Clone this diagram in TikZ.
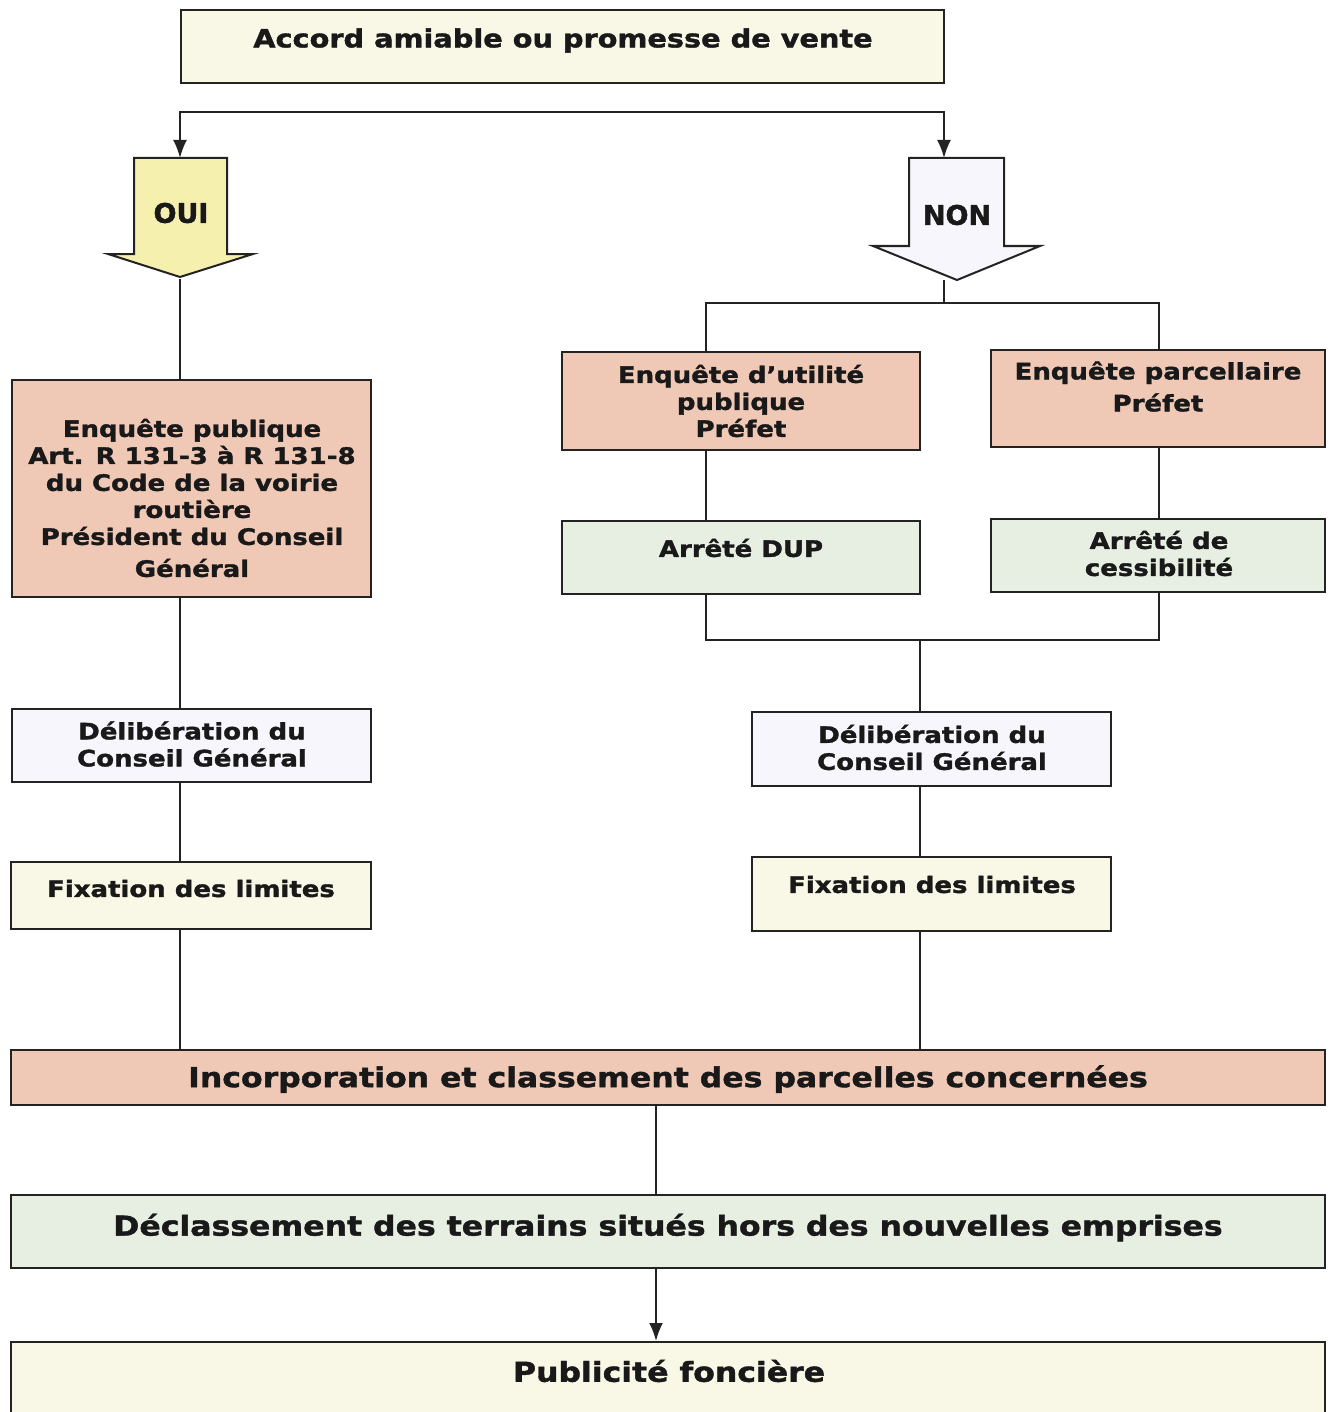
\documentclass[tikz,border=0pt]{standalone}
\usepackage{fontspec}
\setmainfont{DejaVu Sans}[FakeStretch=1.15, BoldFeatures={FakeBold=1.5}]
\newfontfamily\plainfont{DejaVu Sans}[BoldFeatures={FakeBold=1.5}]
\usetikzlibrary{arrows.meta,calc}
\definecolor{pinkc}{RGB}{240,200,182}
\definecolor{greenc}{RGB}{231,238,226}
\definecolor{creamc}{RGB}{249,247,229}
\definecolor{lavc}{RGB}{246,246,252}
\definecolor{yelc}{RGB}{245,240,174}
\definecolor{edgec}{RGB}{35,35,35}
\tikzset{
  basebox/.style={draw=edgec, line width=1pt, inner sep=0pt},
  pinkbox/.style={basebox, fill=pinkc},
  greenbox/.style={basebox, fill=greenc},
  creambox/.style={basebox, fill=creamc},
  lavbox/.style={basebox, fill=lavc},
  txt/.style={inner sep=0pt, align=center, text=black!90, font=\bfseries\fontsize{11.3}{13.5}\selectfont},
  toptxt/.style={inner sep=0pt, text=black!90, font=\bfseries\fontsize{12.5}{14}\selectfont},
  bigtxt/.style={inner sep=0pt, text=black!90, font=\bfseries\fontsize{13.7}{15}\selectfont},
  arrtxt/.style={text=black!90, font=\plainfont\bfseries\fontsize{13.5}{14}\selectfont},
  conn/.style={draw=edgec, line width=1pt},
  tipc/.style={-{Latex[length=9pt,width=7pt]}},
}
\begin{document}
\begin{tikzpicture}[x=0.5pt,y=-0.5pt]
\useasboundingbox (0,0) rectangle (1334,1412);
% column coordinates
\coordinate (cL) at (180,0);
\coordinate (cM) at (656,0);
\coordinate (r1) at (706,0);
\coordinate (r2) at (1159,0);
\coordinate (rm) at (920,0);

% top
\node[creambox, minimum width=381.5pt, minimum height=36.5pt] (top) at (562.5,46.5) {};
\node[toptxt] (topt) at (563,40.5) {Accord amiable ou promesse de vente};

% block arrows
\draw[draw=edgec, line width=1pt, fill=yelc] (134,158) -- (227,158) -- (227,254) -- (253,254) -- (180,277) -- (108,254) -- (134,254) -- cycle;
\coordinate (ouiTop) at (180,158);
\coordinate (ouiTip) at (180,279);
\node[arrtxt] (oui) at (181,213) {OUI};
\draw[draw=edgec, line width=1pt, fill=lavc] (909,158) -- (1004,158) -- (1004,246) -- (1040,246) -- (957,280) -- (873,246) -- (909,246) -- cycle;
\coordinate (nonTop) at (944,158);
\coordinate (nonTip) at (944,280);
\node[arrtxt] (non) at (957,215) {NON};
\coordinate (br) at (562,112);
\draw[conn, {Latex[length=9pt,width=7pt]}-{Latex[length=9pt,width=7pt]}] (ouiTop) |- (br) -| (nonTop);

% left column
\node[pinkbox, minimum width=179.5pt, minimum height=108.5pt] (ep) at (191.5,488.5) {};
\node[txt] (ept) at (192,498)
  {Enquête publique\\Art. R 131-3 à R 131-8\\du Code de la voirie\\routière\\Président du Conseil\\[2.5pt]Général};
\node[lavbox, minimum width=179.5pt, minimum height=36.5pt] (delL) at (191.5,745.5) {};
\node[txt] (delLt) at (192,744) {Délibération du\\Conseil Général};
\node[creambox, minimum width=180pt, minimum height=33.5pt] (fixL) at (191,895.5) {};
\node[txt] (fixLt) at (191,888.5) {Fixation des limites};

% right column
\node[pinkbox, minimum width=179pt, minimum height=49pt] (eup) at (741,401) {};
\node[txt] (eupt) at (741,401) {Enquête d’utilité\\publique\\Préfet};
\node[pinkbox, minimum width=167pt, minimum height=48.5pt] (epar) at (1158,398.5) {};
\node[txt] (epart) at (1158,386.5) {Enquête parcellaire\\[2.5pt]Préfet};
\node[greenbox, minimum width=179pt, minimum height=36.5pt] (adup) at (741,557.5) {};
\node[txt] (adupt) at (741,548) {Arrêté DUP};
\node[greenbox, minimum width=167pt, minimum height=36.5pt] (aces) at (1158,555.5) {};
\node[txt] (acest) at (1159,553.5) {Arrêté de\\cessibilité};
\node[lavbox, minimum width=179.5pt, minimum height=37pt] (delR) at (931.5,749) {};
\node[txt] (delRt) at (932,747.5) {Délibération du\\Conseil Général};
\node[creambox, minimum width=179.5pt, minimum height=37pt] (fixR) at (931.5,894) {};
\node[txt] (fixRt) at (932,884.5) {Fixation des limites};

% bottom
\node[pinkbox, minimum width=657pt, minimum height=27.5pt] (inc) at (668,1077.5) {};
\node[bigtxt] (inct) at (668,1079) {Incorporation et classement des parcelles concernées};
\node[greenbox, minimum width=657pt, minimum height=36.5pt] (decl) at (668,1231.5) {};
\node[bigtxt] (declt) at (668,1227.5) {Déclassement des terrains situés hors des nouvelles emprises};
\node[creambox, minimum width=657pt, minimum height=45pt] (pubbox) at (668,1387) {};
\node[bigtxt] (pub) at (669,1371) {Publicité foncière};

% connectors left
\draw[conn] (ouiTip) -- (ouiTip |- ep.north);
\draw[conn] (ep.south -| cL) -- (delL.north -| cL);
\draw[conn] (delL.south -| cL) -- (fixL.north -| cL);
\draw[conn] (fixL.south -| cL) -- (inc.north -| cL);

% connectors right
\coordinate (rs) at (944,303);
\draw[conn] (nonTip) -- (rs);
\draw[conn] (eup.north -| r1) |- (rs) -| (epar.north -| r2);
\draw[conn] (eup.south -| r1) -- (adup.north -| r1);
\draw[conn] (epar.south -| r2) -- (aces.north -| r2);
\coordinate (rj) at (920,640);
\draw[conn] (adup.south -| r1) |- (rj) -| (aces.south -| r2);
\draw[conn] (rj) -- (delR.north -| rm);
\draw[conn] (delR.south -| rm) -- (fixR.north -| rm);
\draw[conn] (fixR.south -| rm) -- (inc.north -| rm);

% bottom connectors
\draw[conn] (inc.south -| cM) -- (decl.north -| cM);
\draw[conn, tipc] (decl.south -| cM) -- (pubbox.north -| cM);
\end{tikzpicture}
\end{document}
